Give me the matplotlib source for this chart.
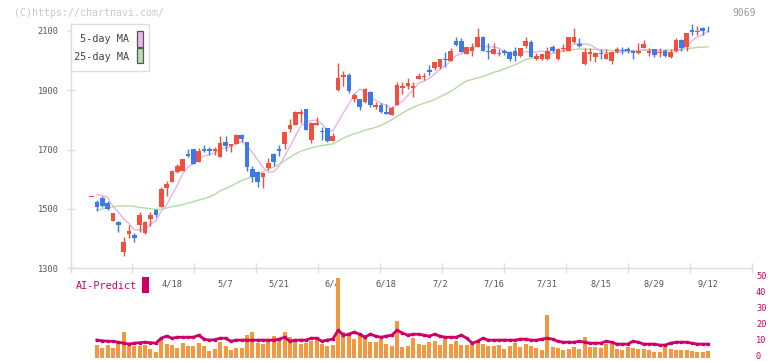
import matplotlib
matplotlib.use("Agg")
import matplotlib.pyplot as plt
import matplotlib.transforms as mtransforms
import numpy as np
import pandas as pd
from matplotlib.patches import Rectangle

# ---------------- data ----------------
opens = [1540, 1523, 1536, 1520, 1459, 1457, 1356, 1417, 1412, 1447,
         1420, 1466, 1498, 1508, 1572, 1591, 1626, 1629, 1685, 1702,
         1659, 1702, 1702, 1696, 1676, 1726, 1712, 1719, 1748, 1726,
         1636, 1623, 1609, 1637, 1684, 1703, 1719, 1770, 1783, 1820,
         1836, 1732, 1784, 1764, 1773, 1730, 1901, 1946, 1952, 1870,
         1870, 1860, 1895, 1844, 1851, 1826, 1817, 1851, 1907, 1916,
         1907, 1938, 1944, 1969, 1974, 1977, 2007, 2000, 2066, 2066,
         2023, 2034, 2047, 2079, 2034, 2023, 2023, 2034, 2030, 2034,
         2014, 2049, 2063, 2004, 2004, 2004, 2047, 2004, 2038, 2034,
         2062, 2056, 1989, 2022, 2011, 2027, 2006, 2000, 2028, 2037,
         2039, 2034, 2027, 2044, 2025, 2039, 2027, 2034, 2011, 2032,
         2070, 2045, 2104, 2097, 2109, 2115]
highs = [1540, 1530, 1544, 1528, 1487, 1458, 1405, 1446, 1418, 1489,
         1459, 1489, 1500, 1574, 1594, 1630, 1652, 1669, 1702, 1703,
         1704, 1716, 1709, 1708, 1746, 1746, 1720, 1753, 1753, 1727,
         1645, 1627, 1621, 1671, 1688, 1714, 1760, 1802, 1831, 1836,
         1837, 1794, 1809, 1777, 1774, 1755, 1993, 1965, 1957, 1890,
         1871, 1909, 1898, 1862, 1856, 1855, 1848, 1927, 1927, 1943,
         1927, 1957, 1957, 1985, 1997, 2007, 2030, 2043, 2081, 2075,
         2046, 2058, 2109, 2082, 2061, 2058, 2038, 2038, 2031, 2045,
         2044, 2081, 2070, 2027, 2023, 2047, 2054, 2041, 2056, 2080,
         2109, 2075, 2041, 2041, 2028, 2038, 2038, 2031, 2046, 2046,
         2046, 2035, 2058, 2070, 2041, 2040, 2043, 2038, 2038, 2075,
         2072, 2093, 2123, 2117, 2115, 2117]
lows = [1540, 1494, 1506, 1498, 1458, 1423, 1342, 1401, 1388, 1421,
        1417, 1444, 1474, 1508, 1543, 1590, 1622, 1628, 1674, 1650,
        1658, 1693, 1683, 1682, 1675, 1696, 1693, 1718, 1727, 1629,
        1592, 1575, 1571, 1631, 1645, 1679, 1701, 1760, 1782, 1789,
        1765, 1721, 1783, 1732, 1727, 1729, 1899, 1916, 1890, 1860,
        1835, 1856, 1845, 1837, 1822, 1820, 1816, 1850, 1887, 1904,
        1879, 1937, 1935, 1952, 1968, 1971, 1979, 1999, 2049, 2028,
        2021, 2017, 2046, 2032, 2005, 2022, 2014, 2018, 2000, 1998,
        2013, 2041, 2011, 2003, 2003, 2003, 2029, 2003, 2032, 2033,
        2061, 2047, 1985, 2000, 1996, 2004, 2004, 1989, 2026, 2022,
        2026, 2006, 2022, 2041, 2014, 2011, 2011, 2011, 2010, 2030,
        2034, 2032, 2087, 2087, 2087, 2095]
closes = [1540, 1507, 1510, 1501, 1486, 1447, 1390, 1426, 1403, 1480,
          1455, 1480, 1480, 1567, 1583, 1628, 1645, 1668, 1679, 1651,
          1695, 1697, 1697, 1701, 1721, 1712, 1719, 1748, 1736, 1643,
          1607, 1592, 1620, 1654, 1658, 1697, 1759, 1783, 1827, 1826,
          1766, 1789, 1791, 1759, 1728, 1746, 1942, 1951, 1898, 1884,
          1845, 1904, 1851, 1851, 1826, 1821, 1839, 1917, 1914, 1925,
          1916, 1949, 1949, 1963, 1996, 2004, 2001, 2032, 2052, 2030,
          2045, 2047, 2081, 2034, 2029, 2038, 2027, 2025, 2006, 2014,
          2043, 2066, 2013, 2016, 2022, 2034, 2034, 2040, 2043, 2079,
          2081, 2049, 2030, 2028, 2027, 2022, 2021, 2030, 2038, 2033,
          2033, 2025, 2032, 2056, 2034, 2018, 2030, 2016, 2030, 2070,
          2041, 2092, 2097, 2100, 2101, 2112]

# volume bars (candles 1..115, right-axis units)
volume = [8.1, 6.3, 8.1, 6.3, 10.6, 16.25, 7.5, 7.5, 7.5, 8.1,
          5.6, 3.75, 11.9, 8.75, 8.1, 6.3, 9.4, 7.5, 7.5, 9.4,
          7.5, 4.4, 5.6, 10, 7.5, 5, 6.3, 6.3, 14.4, 16.25,
          9.4, 8.75, 10.6, 13.75, 11.9, 16.25, 13.1, 11.25, 8.75, 9.4,
          10.6, 12.5, 8.75, 7.5, 8.1, 50, 16.25, 14.4, 11.9, 14.4,
          14.4, 10, 10, 11.9, 8.75, 7.5, 23.1, 6.9, 7.5, 12.5,
          8.75, 8.1, 10, 10.6, 8.1, 12.5, 8.75, 10.6, 8.1, 8.1,
          9.4, 9.4, 8.75, 7.5, 7.5, 8.1, 5.6, 7.5, 9.4, 6.9,
          8.75, 7.5, 6.3, 5, 26.9, 6.9, 6.3, 5, 5.6, 6.9,
          5.6, 13.1, 6.9, 6.9, 6.3, 8.75, 8.75, 5.6, 5, 6.9,
          6.3, 5.6, 5.6, 5, 3.75, 3.75, 6.9, 5.6, 5, 5,
          5, 4.4, 3.75, 3.75, 4.4]

# AI-Predict line (candles 1..115)
ai_predict = [10.9, 10.5, 10.2, 10.2, 9.6, 9.0, 8.4, 9.0, 9.3, 9.6,
              9.3, 9.0, 12.1, 13.4, 12.1, 12.7, 12.7, 12.7, 12.7, 14.0,
              11.5, 10.9, 11.2, 12.1, 12.1, 10.2, 10.9, 10.9, 10.9, 10.9,
              10.9, 10.9, 10.9, 10.9, 11.5, 12.7, 10.2, 10.9, 10.9, 10.9,
              12.1, 12.1, 10.2, 11.0, 11.5, 17.1, 14.0, 14.6, 15.9, 14.6,
              12.7, 14.6, 13.4, 12.7, 13.4, 14.0, 17.1, 15.3, 14.0, 14.6,
              14.6, 14.0, 13.4, 14.6, 13.4, 12.7, 12.7, 12.7, 14.0, 12.1,
              9.0, 10.2, 12.1, 10.9, 10.9, 10.9, 10.9, 10.9, 10.9, 11.5,
              11.5, 10.9, 10.9, 11.5, 12.1, 11.5, 10.2, 9.6, 9.6, 9.6,
              10.2, 9.6, 9.0, 9.0, 9.0, 10.2, 9.6, 8.4, 8.4, 8.4,
              10.2, 9.6, 8.4, 8.4, 8.4, 7.8, 7.8, 9.0, 9.6, 9.6,
              9.6, 9.0, 8.4, 8.4, 8.4]

# moving-average values before enough closes exist (candles 1..3 / 1..23)
ma5_head = [1549, 1545, 1539]
ma25_head = [1496, 1500, 1504, 1507, 1510, 1510, 1510, 1509, 1505, 1503,
             1501, 1499, 1499, 1503, 1508, 1511, 1515, 1520, 1524, 1530,
             1535, 1541, 1549]

date_labels = ["4/18", "5/7", "5/21", "6/4", "6/18", "7/2", "7/16",
               "7/31", "8/15", "8/29", "9/12"]
label_index = [15, 25, 35, 45, 55, 65, 75, 85, 95, 105, 115]
price_ticks = [1300, 1500, 1700, 1900, 2100]
vol_ticks = [0, 10, 20, 30, 40, 50]

# ---------------- styling ----------------
RED = "#f0513f"
BLUE = "#3d7ae8"
ORANGE = "#f3983f"
MAGENTA = "#cc0066"
PINK = "#e6b4e6"
GREEN = "#b4daa4"
AXC = "#dddddd"
MONO = "DejaVu Sans Mono"

W, H = 772, 361
fig = plt.figure(figsize=(W / 100, H / 100), dpi=100)
fig.patch.set_facecolor("white")


def frac(x0, y0, x1, y1):
    return [x0 / W, 1 - y1 / H, (x1 - x0) / W, (y1 - y0) / H]


n = len(closes)
x = np.arange(n)
o = np.array(opens, float)
c = np.array(closes, float)
hi = np.array(highs, float)
lo = np.array(lows, float)
up = c >= o
cols = np.where(up, RED, BLUE)

xmin, xmax = -3.92, 123.2

# ---------------- main price axes ----------------
ax = fig.add_axes(frac(70.5, 24, 752, 268.3))
ax.set_xlim(xmin, xmax)
ax.set_ylim(1300, 2123.5)
for s in ["top", "right"]:
    ax.spines[s].set_visible(False)
for s in ["left", "bottom"]:
    ax.spines[s].set_color(AXC)
    ax.spines[s].set_linewidth(1)

# moving averages
s = pd.Series(c)
ma5 = s.rolling(5).mean().to_numpy()
ma25 = s.rolling(25).mean().to_numpy()
ma5[0] = np.nan
ma5[1:1 + len(ma5_head)] = ma5_head
ma25[0] = np.nan
ma25[1:1 + len(ma25_head)] = ma25_head
ax.plot(x, ma25, color=GREEN, lw=1, zorder=2)
ax.plot(x, ma5, color=PINK, lw=1, zorder=2)

# candles
ax.vlines(x, lo, hi, colors=cols, lw=1, zorder=3)
body_bottom = np.minimum(o, c)
body_h = np.maximum(np.abs(c - o), 2.5)
ax.bar(x, body_h, bottom=body_bottom, width=0.86, color=cols, lw=0, zorder=4)

# ticks
marks = np.linspace(xmin, xmax, 12)
ax.set_xticks(marks)
ax.set_xticklabels([])
ax.set_xticks(label_index, minor=True)
ax.set_xticklabels(date_labels, minor=True, fontsize=6.2, family=MONO, color="#555555")
ax.tick_params(axis="x", which="major", direction="inout", length=6.5, width=1, color=AXC)
ax.tick_params(axis="x", which="minor", length=0, pad=8.2)
ax.set_yticks(price_ticks)
ax.set_yticklabels([str(v) for v in price_ticks], fontsize=6.2, family=MONO, color="#555555")
ax.tick_params(axis="y", direction="inout", length=6, width=1, color=AXC, pad=5.5)

# ---------------- volume / AI-Predict axes ----------------
ax2 = fig.add_axes(frac(70.5, 277.5, 752, 357.6))
ax2.patch.set_visible(False)
ax2.set_zorder(3)
ax2.set_xlim(xmin, xmax)
ax2.set_ylim(0, 50)
for sp in ax2.spines.values():
    sp.set_visible(False)
xv = x[1:]
ax2.bar(xv, volume, width=0.75, color=ORANGE, lw=0, zorder=2)
ax2.plot(xv, ai_predict, color=MAGENTA, lw=2.0, marker="s", ms=2, zorder=3)
ax2.set_xticks([])
ax2.set_yticks([])

# right-hand scale labels (nudged up slightly so the "0" stays inside the figure)
blend = mtransforms.blended_transform_factory(ax2.transAxes, ax2.transData)
lab_tr = mtransforms.offset_copy(blend, fig=fig, x=4, y=-1.2, units="dots")
for v in vol_ticks:
    ax2.text(1.0, v, str(v), transform=lab_tr, fontsize=6.2, family=MONO,
             color=MAGENTA, ha="left", va="baseline", clip_on=False)

# ---------------- decorations ----------------
fig.text(14 / W, 1 - 13 / H, "(C)https://chartnavi.com/", fontsize=7.1, family=MONO,
         color="#c8c8c8", va="center", ha="left")
fig.text(756 / W, 1 - 13 / H, "9069", fontsize=7, family=MONO, color="#9a9a9a",
         va="center", ha="right")

# legend box
fig.add_artist(Rectangle(((70.7) / W, 1 - 71.3 / H), 78 / W, 47.3 / H,
                         transform=fig.transFigure, facecolor="white",
                         edgecolor=AXC, lw=1, zorder=5))
fig.text(129.5 / W, 1 - 39.5 / H, "5-day MA", fontsize=7.4, family=MONO, color="#444444",
         va="center", ha="right", zorder=6)
fig.text(129.5 / W, 1 - 56.5 / H, "25-day MA", fontsize=7.4, family=MONO, color="#444444",
         va="center", ha="right", zorder=6)
fig.add_artist(Rectangle((136.7 / W, 1 - 46.5 / H), 6 / W, 15.3 / H, transform=fig.transFigure,
                         facecolor="#ebb8eb", edgecolor="#555555", lw=0.9, zorder=6))
fig.add_artist(Rectangle((136.7 / W, 1 - 63.3 / H), 6 / W, 15.3 / H, transform=fig.transFigure,
                         facecolor="#b8dcaa", edgecolor="#555555", lw=0.9, zorder=6))

# AI-Predict label
fig.text(76 / W, 1 - 286 / H, "AI-Predict", fontsize=7.3, family=MONO, color=MAGENTA,
         va="center", ha="left")
fig.add_artist(Rectangle((142.3 / W, 1 - 292.7 / H), 6.4 / W, 15.4 / H, transform=fig.transFigure,
                         facecolor=MAGENTA, edgecolor="none", zorder=6))

fig.savefig("out.png", dpi=100)
